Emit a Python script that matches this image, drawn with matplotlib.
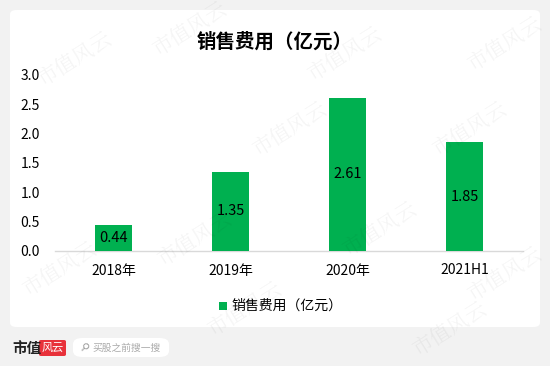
import matplotlib
matplotlib.use("Agg")
import matplotlib.pyplot as plt
from matplotlib.patches import FancyBboxPatch, Rectangle

plt.rcParams['font.family'] = ['Noto Sans CJK SC', 'DejaVu Sans']

categories = ["2018年", "2019年", "2020年", "2021H1"]
values = [0.44, 1.35, 2.61, 1.85]
value_labels = ["0.44", "1.35", "2.61", "1.85"]
yticks = [0.0, 0.5, 1.0, 1.5, 2.0, 2.5, 3.0]
ytick_labels = ["0.0", "0.5", "1.0", "1.5", "2.0", "2.5", "3.0"]
title = "销售费用（亿元）"
legend_label = "销售费用（亿元）"

GREEN = "#00B050"

fig = plt.figure(figsize=(5.5, 3.66), dpi=100)
fig.patch.set_facecolor("#F2F2F2")

# white panel
panel = FancyBboxPatch((10/550, 1-327/366), 530/550, 317/366,
                       boxstyle="round,pad=0,rounding_size=0.012",
                       transform=fig.transFigure, facecolor="white",
                       edgecolor="none", zorder=-10)
fig.patches.append(panel)

ax = fig.add_axes([55/550, 1-251/366, 468/550, 176/366])
ax.set_zorder(1)
ax.set_facecolor("none")
x = list(range(len(categories)))
bars = ax.bar(x, values, width=0.31, color=GREEN, zorder=3)
for xi, v, lab in zip(x, values, value_labels):
    ax.text(xi, v/2, lab, ha="center", va="center", fontsize=10.5, color="black", zorder=4)

ax.set_xlim(-0.5, len(categories)-0.5)
ax.set_ylim(0, 3.0)
ax.set_yticks(yticks)
ax.set_yticklabels(ytick_labels, ha="left", fontsize=10)
ax.tick_params(axis="y", length=0, pad=25)
ax.set_xticks(x)
ax.set_xticklabels(categories, fontsize=10)
ax.tick_params(axis="x", length=0, pad=9)
for s in ["top", "right", "left"]:
    ax.spines[s].set_visible(False)
ax.spines["bottom"].set_color("#D9D9D9")
ax.spines["bottom"].set_linewidth(1.0)

fig.text(0.5, 1-42/366, title, ha="center", va="center", fontsize=14, fontweight="bold", zorder=5)

# legend
fig.patches.append(Rectangle((219/550, 1-310/366), 8/550, 8/366, transform=fig.transFigure,
                             facecolor=GREEN, edgecolor="none", zorder=5))
fig.text(231/550, 1-306/366, legend_label, ha="left", va="center", fontsize=10, zorder=5)

# watermarks
wm_positions = [(75, 60), (190, 30), (195, 240), (345, 55), (505, 45), (60, 270),
                (245, 310), (380, 230), (470, 130), (505, 275), (290, 130), (450, 330)]
for (px, py) in wm_positions:
    fig.text(px/550, 1-py/366, "市值风云", ha="center", va="center", fontsize=15,
             color="#000000", alpha=0.045, rotation=32, zorder=6, fontweight="light",
             family=["Noto Serif CJK SC", "Noto Sans CJK SC"])

# bottom logo
fig.text(12/550, 1-348/366, "市值", ha="left", va="center", fontsize=10.5, fontweight="bold",
         color="#222222", zorder=5)
fig.patches.append(FancyBboxPatch((39/550, 1-356/366), 27/550, 16/366,
                                  boxstyle="round,pad=0,rounding_size=0.004",
                                  transform=fig.transFigure, facecolor="#E8313A",
                                  edgecolor="none", zorder=5))
fig.text(52.5/550, 1-348/366, "风云", ha="center", va="center", fontsize=8, color="white",
         style="italic", zorder=6)
fig.patches.append(FancyBboxPatch((73/550, 1-357/366), 96/550, 19/366,
                                  boxstyle="round,pad=0,rounding_size=0.017",
                                  transform=fig.transFigure, facecolor="white",
                                  edgecolor="none", zorder=5))
fig.text(78/550, 1-348/366, "⚲", ha="left", va="center", fontsize=8, color="#999999",
         family=["DejaVu Sans"], rotation=-45, zorder=6)
fig.text(92/550, 1-348/366, "买股之前搜一搜", ha="left", va="center", fontsize=7, color="#AAAAAA", zorder=6)

fig.savefig("out.png", dpi=100, facecolor=fig.get_facecolor())
